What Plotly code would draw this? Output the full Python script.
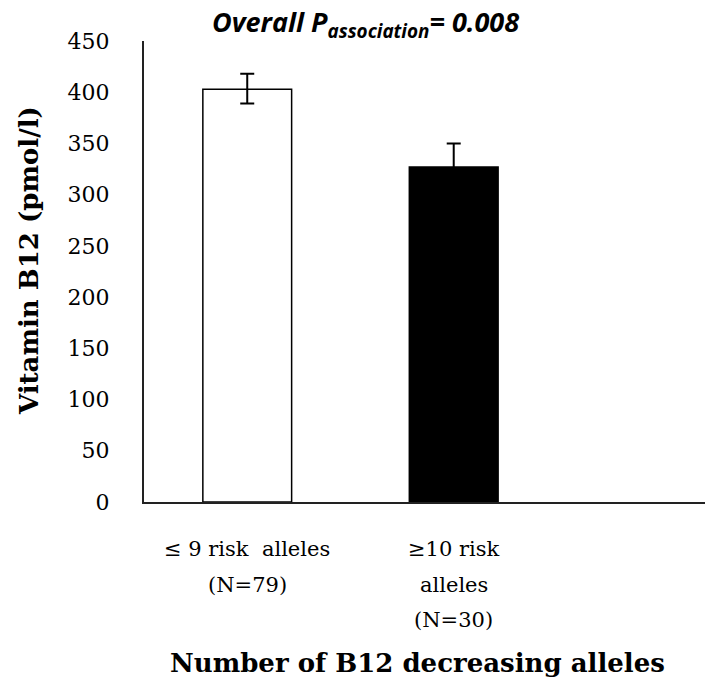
import plotly.graph_objects as go

# ---- data ----
categories = [0, 1]
cat_label_lines = [["≤ 9 risk  alleles", "(N=79)"], ["≥10 risk", "alleles", "(N=30)"]]
values = [403, 327]
err_plus = [15, 23]
err_minus = [14, 23]
bar_colors = ["white", "black"]
y_ticks = [0, 50, 100, 150, 200, 250, 300, 350, 400, 450]

W, H = 705, 681
ML, MR, MT, MB = 144, 0, 41, 179

fig = go.Figure()
fig.add_trace(go.Bar(
    x=categories, y=values, width=0.43,
    marker=dict(color=bar_colors, line=dict(color="black", width=1.5)),
    error_y=dict(type="data", symmetric=False, array=err_plus, arrayminus=err_minus,
                 color="black", thickness=2, width=7),
    showlegend=False,
))

serif = "DejaVu Serif"
fig.update_layout(
    width=W, height=H,
    margin=dict(l=ML, r=MR, t=MT, b=MB, pad=0),
    plot_bgcolor="white", paper_bgcolor="white",
    xaxis=dict(range=[-0.5, 2.217], showgrid=False, zeroline=False,
               showline=True, linecolor="#222", linewidth=2,
               showticklabels=False, ticks=""),
    yaxis=dict(range=[0, 450], tickvals=y_ticks, showgrid=False, zeroline=False,
               showline=True, linecolor="#222", linewidth=2, ticks="",
               ticklabelstandoff=28,
               tickfont=dict(family=serif, size=22, color="black")),
)

# category labels (multi-line, wide spacing)
line_shifts = [-47, -83, -118]
for ci, lines in zip(categories, cat_label_lines):
    for li, txt in enumerate(lines):
        fig.add_annotation(x=ci, xref="x", y=0, yref="paper", yshift=line_shifts[li],
                           text=txt, showarrow=False, yanchor="middle", xanchor="center",
                           font=dict(family=serif, size=21, color="black"))

pw = W - ML - MR
ph = H - MT - MB
fig.add_annotation(x=(417 - ML) / pw, xref="paper", y=0, yref="paper", yshift=-161,
                   text="<b>Number of B12 decreasing alleles</b>", showarrow=False,
                   xanchor="center", yanchor="middle",
                   font=dict(family=serif, size=26, color="black"))
fig.add_annotation(x=(29 - ML) / pw, xref="paper", y=(H - MB - 261) / ph, yref="paper",
                   text="<b>Vitamin B12 (pmol/l)</b>", textangle=-90, showarrow=False,
                   xanchor="center", yanchor="middle",
                   font=dict(family=serif, size=26, color="black"))
fig.add_annotation(x=(365 - ML) / pw, xref="paper", y=(H - MB - 24) / ph, yref="paper",
                   text="<b><i>Overall P<sub>association</sub>= 0.008</i></b>", showarrow=False,
                   xanchor="center", yanchor="middle",
                   font=dict(family="Open Sans", size=27, color="black"))

fig.write_html("out.html")
